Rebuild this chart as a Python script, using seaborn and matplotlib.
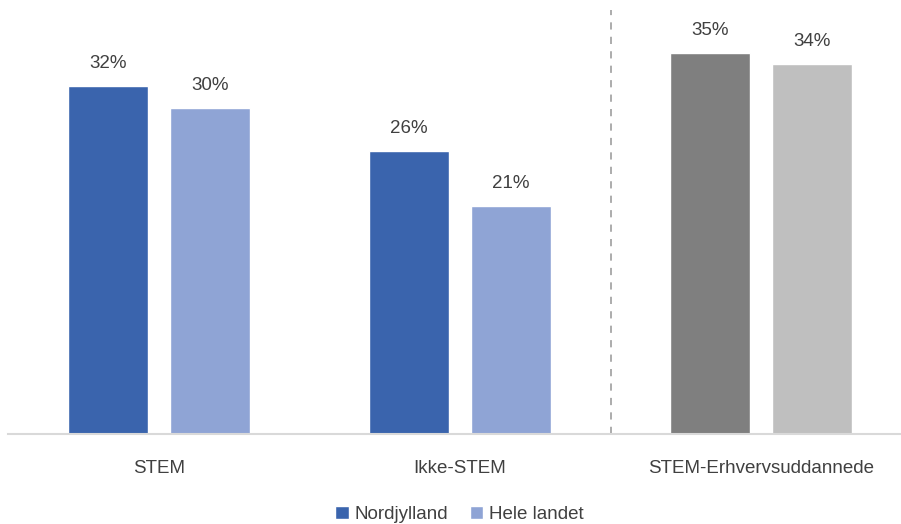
import matplotlib
matplotlib.use("Agg")
import matplotlib.pyplot as plt
import seaborn as sns
import pandas as pd
from matplotlib.patches import Patch

categories = ["STEM", "Ikke-STEM", "STEM-Erhvervsuddannede"]
series = ["Nordjylland", "Hele landet"]
nordjylland = [32, 26, 35]
hele_landet = [30, 21, 34]
labels_n = ["32%", "26%", "35%"]
labels_h = ["30%", "21%", "34%"]

df = pd.DataFrame({
    "kategori": categories * 2,
    "serie": [series[0]] * 3 + [series[1]] * 3,
    "andel": nordjylland + hele_landet,
})

blue = "#3A64AD"
lblue = "#8FA4D5"
dgrey = "#7F7F7F"
lgrey = "#BFBFBF"
txt = "#404040"

sns.set_theme(style="white")
plt.rcParams["font.family"] = ["Liberation Sans", "DejaVu Sans"]

fig = plt.figure(figsize=(9.01, 5.24), dpi=100)
ax = fig.add_axes([8 / 901, 1 - 434 / 524, 892 / 901, 424 / 524])
sns.barplot(data=df, x="kategori", y="andel", hue="serie", order=categories,
            hue_order=series, palette=[blue, lblue], width=0.678, gap=0.215,
            ax=ax, legend=False, saturation=1)

ax.containers[0][2].set_facecolor(dgrey)
ax.containers[1][2].set_facecolor(lgrey)

for cont, labs in zip(ax.containers, [labels_n, labels_h]):
    ax.bar_label(cont, labels=labs, padding=10, fontsize=13.5, color=txt)

ax.set_xlim(-151 / 301, 741 / 301)
ax.set_ylim(0, 424 / 10.88)
ax.set_xlabel("")
ax.set_ylabel("")
ax.set_yticks([])
ax.tick_params(axis="x", length=0, pad=19, labelsize=13.5, labelcolor=txt)
for s in ["top", "left", "right"]:
    ax.spines[s].set_visible(False)
ax.spines["bottom"].set_color("#D9D9D9")
ax.spines["bottom"].set_linewidth(1.5)
ax.axvline(1.5, color="#A6A6A6", linestyle=(0, (4, 4)), linewidth=1.3)

handles = [Patch(facecolor=blue, label=series[0]), Patch(facecolor=lblue, label=series[1])]
fig.legend(handles=handles, loc="lower center", bbox_to_anchor=(0.51, -0.03), ncol=2,
           frameon=False, fontsize=13.5, handlelength=0.7, handleheight=0.7,
           handletextpad=0.3, columnspacing=1.2, labelcolor=txt)

fig.savefig("out.png", dpi=100)
